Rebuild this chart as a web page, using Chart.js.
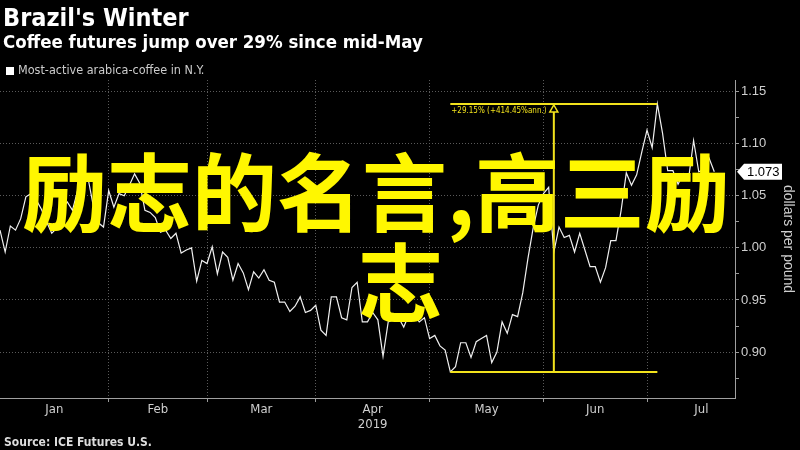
<!DOCTYPE html>
<html>
<head>
<meta charset="utf-8">
<script src="https://cdn.jsdelivr.net/npm/chart.js@4.4.1/dist/chart.umd.min.js"></script>
<style>
  html, body { margin: 0; padding: 0; background: #000; }
  #wrap { position: relative; width: 800px; height: 450px; overflow: hidden; background: #000; }
  #chart { position: absolute; left: 0; top: 0; }
  .txt { position: absolute; white-space: nowrap; line-height: 1; }
  #title { left: 3px; top: 3px; color: #fff; font: bold 25px "DejaVu Sans Condensed", "DejaVu Sans", sans-serif; font-stretch: condensed; }
  #subtitle { left: 3px; top: 31px; color: #fff; font: bold 18.5px "DejaVu Sans Condensed", "DejaVu Sans", sans-serif; font-stretch: condensed; }
  #legend { left: 6px; top: 62px; color: #ccc; font: 12.5px "Liberation Sans Narrow", "DejaVu Sans Condensed", sans-serif; }
  #legend i { display: inline-block; width: 8px; height: 8px; background: #fff; margin-right: 4px; vertical-align: -1px; }
  #source { left: 4px; top: 435px; color: #ddd; font: bold 12px "DejaVu Sans Condensed", "DejaVu Sans", sans-serif; font-stretch: condensed; }
  .big { position: absolute; white-space: nowrap; line-height: 1; color: #fff700; font: 700 85px "Noto Sans CJK SC", sans-serif; z-index: 5; }
  #big1 { left: 22px; top: 126px; }
  #big2 { left: 358px; top: 216px; }
</style>
</head>
<body>
<div id="wrap">
  <canvas id="chart" width="800" height="450"></canvas>
  <div class="txt" id="title">Brazil's Winter</div>
  <div class="txt" id="subtitle">Coffee futures jump over 29% since mid-May</div>
  <div class="txt" id="legend"><i></i>Most-active arabica-coffee in N.Y.</div>
  <div class="txt" id="source">Source: ICE Futures U.S.</div>
  <div class="big" id="big1">励志的名言,高三励</div>
  <div class="big" id="big2">志</div>
</div>
<script>
// Most-active arabica coffee, dollars per pound, one value per trading day (Jan - mid Jul 2019)
const prices = [
  1.017, 0.996, 1.021, 1.017, 1.028, 1.049, 1.052, 1.046, 1.037, 1.025,
  1.014, 1.019, 1.039, 1.044, 1.036, 1.055, 1.063, 1.067, 1.041, 1.024,
  1.020, 1.055, 1.039, 1.052, 1.050, 1.060, 1.071, 1.062, 1.036, 1.034,
  1.029, 1.015, 1.017, 1.009, 1.014, 0.995, 0.998, 1.000, 0.968, 0.988,
  0.985, 1.001, 0.975, 0.996, 0.991, 0.969, 0.985, 0.976, 0.960, 0.977,
  0.971, 0.979, 0.969, 0.967, 0.948, 0.948, 0.939, 0.944, 0.953, 0.938,
  0.940, 0.945, 0.921, 0.916, 0.953, 0.953, 0.933, 0.931, 0.962, 0.967,
  0.929, 0.929, 0.938, 0.931, 0.896, 0.929, 0.931, 0.933, 0.924, 0.936,
  0.936, 0.929, 0.933, 0.913, 0.916, 0.906, 0.902, 0.881, 0.886, 0.909,
  0.909, 0.895, 0.910, 0.913, 0.916, 0.890, 0.900, 0.929, 0.918, 0.936,
  0.934, 0.957, 0.990, 1.019, 1.041, 1.052, 1.058, 0.996, 1.020, 1.010,
  1.012, 0.996, 1.014, 0.998, 0.982, 0.982, 0.967, 0.981, 1.007, 1.007,
  1.036, 1.072, 1.060, 1.070, 1.092, 1.113, 1.096, 1.138, 1.110, 1.074,
  1.074, 1.061, 1.071, 1.065, 1.103, 1.073, 1.075, 1.086, 1.073
];

// month labels and the trading-day index where each month starts (last = Aug)
const months = ['Jan', 'Feb', 'Mar', 'Apr', 'May', 'Jun', 'Jul'];
const monthStarts = [0, 21, 40, 61, 83, 105, 125, 146];
const yearLabel = '2019';

// right axis ticks
const yMajor = [0.90, 0.95, 1.00, 1.05, 1.10, 1.15];
const yMinor = [0.875, 0.925, 0.975, 1.025, 1.075, 1.125];

// trough -> peak measurement (trading-day index, price)
const spanIdx = [87, 127];
const spanVals = [0.881, 1.138];
const spanLabel = '+29.15% (+414.45%ann.)';

const yellow = '#f2e21c';
const boundaries = monthStarts.slice(1, -1);
const mids = months.map((m, i) => (monthStarts[i] + monthStarts[i + 1]) / 2);

const annotate = {
  id: 'annotate',
  afterDatasetsDraw(chart) {
    const { ctx, scales: { x, y } } = chart;
    const x0 = x.getPixelForValue(spanIdx[0]);
    const x1 = x.getPixelForValue(spanIdx[1]);
    const xm = x.getPixelForValue((spanIdx[0] + spanIdx[1]) / 2);
    const yLo = y.getPixelForValue(spanVals[0]);
    const yHi = y.getPixelForValue(spanVals[1]);
    ctx.save();
    ctx.strokeStyle = yellow;
    ctx.lineWidth = 2;
    ctx.beginPath();
    ctx.moveTo(x0, yHi); ctx.lineTo(x1, yHi);
    ctx.moveTo(x0, yLo); ctx.lineTo(x1, yLo);
    ctx.moveTo(xm, yHi + 8); ctx.lineTo(xm, yLo);
    ctx.stroke();
    // hollow arrow head
    ctx.lineWidth = 1.5;
    ctx.beginPath();
    ctx.moveTo(xm, yHi + 1);
    ctx.lineTo(xm - 4, yHi + 8);
    ctx.lineTo(xm + 4, yHi + 8);
    ctx.closePath();
    ctx.stroke();
    ctx.fillStyle = yellow;
    ctx.font = '8px "Liberation Sans Narrow", "DejaVu Sans Condensed", sans-serif';
    ctx.textBaseline = 'middle';
    ctx.fillText(spanLabel, x0 + 1, yHi + 7);

    // last value tag on the right axis
    const last = prices[prices.length - 1];
    const ly = y.getPixelForValue(last);
    const ax = y.left + 2;
    ctx.fillStyle = '#fff';
    ctx.beginPath();
    ctx.moveTo(ax, ly);
    ctx.lineTo(ax + 7, ly - 8);
    ctx.lineTo(ax + 45, ly - 8);
    ctx.lineTo(ax + 45, ly + 8);
    ctx.lineTo(ax + 7, ly + 8);
    ctx.closePath();
    ctx.fill();
    ctx.fillStyle = '#000';
    ctx.font = '13px "Liberation Sans", sans-serif';
    ctx.fillText(last.toFixed(3), ax + 10, ly + 1);
    ctx.restore();
  }
};

new Chart(document.getElementById('chart'), {
  type: 'line',
  data: {
    datasets: [{
      data: prices.map((v, i) => ({ x: i, y: v })),
      borderColor: '#f0f0f0',
      borderWidth: 1.2,
      pointRadius: 0,
      tension: 0
    }]
  },
  options: {
    responsive: false,
    animation: false,
    layout: { padding: { top: 80, left: 0, right: 0, bottom: 0 } },
    plugins: { legend: { display: false }, tooltip: { enabled: false } },
    scales: {
      x: {
        type: 'linear',
        min: 0,
        max: 142,
        afterBuildTicks: s => {
          s.ticks = boundaries.concat(mids).sort((a, b) => a - b).map(v => ({ value: v }));
        },
        afterFit: s => { s.height = 52; },
        ticks: {
          autoSkip: false,
          maxRotation: 0,
          padding: 0,
          color: '#cfcfcf',
          font: { family: '"Liberation Sans Narrow", "DejaVu Sans Condensed", sans-serif', size: 13, lineHeight: 1.15 },
          callback: v => {
            const i = mids.indexOf(v);
            if (i < 0) return '';
            return months[i] === 'Apr' ? [months[i], yearLabel] : months[i];
          }
        },
        grid: {
          color: c => boundaries.includes(c.tick && c.tick.value) ? '#5a5a5a' : 'rgba(0,0,0,0)',
          tickColor: c => boundaries.includes(c.tick && c.tick.value) ? '#9a9a9a' : 'rgba(0,0,0,0)',
          tickLength: 4
        },
        border: { display: true, color: '#a0a0a0', dash: [1, 2] }
      },
      y: {
        position: 'right',
        min: 0.856,
        max: 1.161,
        afterBuildTicks: s => {
          s.ticks = yMajor.concat(yMinor).sort((a, b) => a - b).map(v => ({ value: v }));
        },
        afterFit: s => { s.width = 65; },
        ticks: {
          padding: 2,
          color: '#cfcfcf',
          font: { family: '"Liberation Sans", sans-serif', size: 13 },
          callback: v => yMajor.includes(v) ? v.toFixed(2) : ''
        },
        grid: {
          color: c => yMajor.includes(c.tick && c.tick.value) ? '#5a5a5a' : 'rgba(0,0,0,0)',
          tickColor: '#9a9a9a',
          tickLength: 4
        },
        border: { display: true, color: '#a0a0a0', dash: [1, 2] },
        title: {
          display: true,
          text: 'dollars per pound',
          color: '#cfcfcf',
          font: { family: '"Liberation Sans", sans-serif', size: 14 },
          padding: { top: 4, bottom: 0 }
        }
      }
    }
  },
  plugins: [annotate]
});
</script>
</body>
</html>
